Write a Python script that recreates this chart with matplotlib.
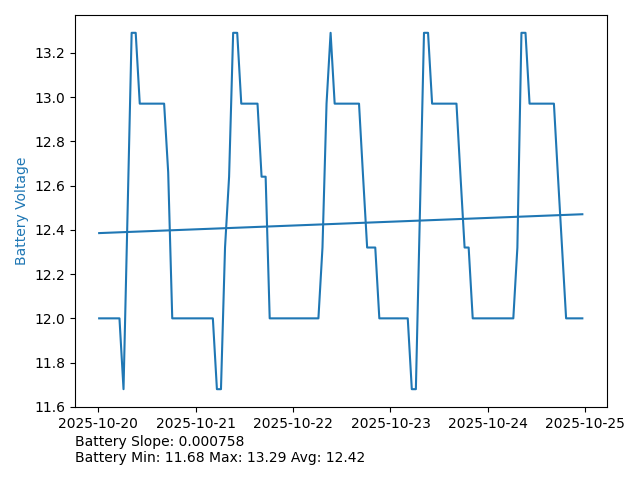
import numpy as np
import pandas as pd
import matplotlib
matplotlib.use("Agg")
import matplotlib.pyplot as plt
import matplotlib.dates as mdates

start = "2025-10-20 00:15"
n_hours = 120

# Hourly battery voltage readings
voltage = [
    # day 0
    12.0, 12.0, 12.0, 12.0, 12.0, 12.0, 11.68, 12.48, 13.29, 13.29,
    12.97, 12.97, 12.97, 12.97, 12.97, 12.97, 12.97, 12.66, 12.0, 12.0,
    12.0, 12.0, 12.0, 12.0,
    # day 1
    12.0, 12.0, 12.0, 12.0, 12.0, 11.68, 11.68, 12.32, 12.64, 13.29,
    13.29, 12.97, 12.97, 12.97, 12.97, 12.97, 12.64, 12.64, 12.0, 12.0,
    12.0, 12.0, 12.0, 12.0,
    # day 2
    12.0, 12.0, 12.0, 12.0, 12.0, 12.0, 12.0, 12.32, 12.97, 13.29,
    12.97, 12.97, 12.97, 12.97, 12.97, 12.97, 12.97, 12.64, 12.32, 12.32,
    12.32, 12.0, 12.0, 12.0,
    # day 3
    12.0, 12.0, 12.0, 12.0, 12.0, 11.68, 11.68, 12.48, 13.29, 13.29,
    12.97, 12.97, 12.97, 12.97, 12.97, 12.97, 12.97, 12.64, 12.32, 12.32,
    12.0, 12.0, 12.0, 12.0,
    # day 4
    12.0, 12.0, 12.0, 12.0, 12.0, 12.0, 12.0, 12.32, 13.29, 13.29,
    12.97, 12.97, 12.97, 12.97, 12.97, 12.97, 12.97, 12.64, 12.32, 12.0,
    12.0, 12.0, 12.0, 12.0,
]

stats_lines = [
    "Battery Slope: 0.000758",
    "Battery Min: 11.68 Max: 13.29 Avg: 12.42",
]

times = pd.date_range(start, periods=n_hours, freq="h")
v = np.array(voltage)
idx = np.arange(len(v))
slope, intercept = np.polyfit(idx, v, 1)
trend = intercept + slope * idx

fig = plt.figure(figsize=(6.4, 4.8), dpi=100)
ax = fig.add_subplot(111)
fig.subplots_adjust(left=75/640, right=606.5/640, top=1-15/480, bottom=1-407/480)

ax.plot(times, v, color="tab:blue")
ax.plot([times[0], times[-1]], [trend[0], trend[-1]], color="tab:blue")

ax.set_ylabel("Battery Voltage", color="tab:blue")
ax.xaxis.set_major_locator(mdates.DayLocator())
ax.xaxis.set_major_formatter(mdates.DateFormatter("%Y-%m-%d"))

fig.text(75/640, 1-435/480, "\n".join(stats_lines), ha="left", va="top", fontsize=10)

fig.savefig("out.png", dpi=100)
